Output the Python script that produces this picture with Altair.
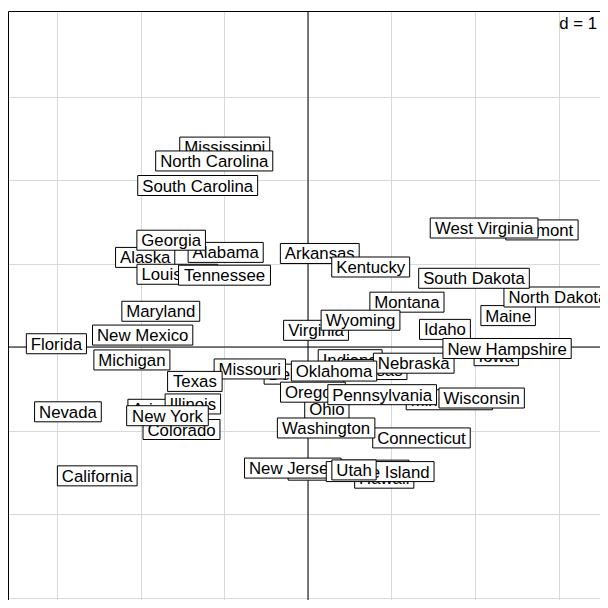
import altair as alt
import pandas as pd

states = ["Alabama", "Alaska", "Arizona", "Arkansas", "California", "Colorado",
          "Connecticut", "Delaware", "Florida", "Georgia", "Hawaii", "Idaho",
          "Illinois", "Indiana", "Iowa", "Kansas", "Kentucky", "Louisiana", "Maine",
          "Maryland", "Massachusetts", "Michigan", "Minnesota", "Mississippi",
          "Missouri", "Montana", "Nebraska", "Nevada", "New Hampshire", "New Jersey",
          "New Mexico", "New York", "North Carolina", "North Dakota", "Ohio",
          "Oklahoma", "Oregon", "Pennsylvania", "Rhode Island", "South Carolina",
          "South Dakota", "Tennessee", "Texas", "Utah", "Vermont", "Virginia",
          "Washington", "West Virginia", "Wisconsin", "Wyoming"]

axis1 = [-0.986, -1.950, -1.763, 0.141, -2.524, -1.515, 1.359, -0.048, -3.013, -1.639,
         0.913, 1.640, -1.379, 0.505, 2.254, 0.797, 0.751, -1.565, 2.397, -1.763,
         0.486, -2.109, 1.693, -0.997, -0.697, 1.185, 1.266, -2.875, 2.384, -0.182,
         -1.980, -1.683, -1.123, 2.992, 0.226, 0.312, 0.059, 0.888, 0.864, -1.321,
         1.988, -1.000, -1.355, 0.551, 2.802, 0.096, 0.217, 2.109, 2.080, 0.629]

axis2 = [1.133, 1.073, -0.746, 1.120, -1.543, -0.988, -1.089, -0.325, 0.039, 1.279,
         -1.571, 0.211, -0.682, -0.152, -0.104, -0.270, 0.958, 0.871, 0.376, 0.428,
         -1.475, -0.155, -0.632, 2.394, -0.263, 0.537, -0.194, -0.776, -0.018, -1.450,
         0.143, -0.823, 2.228, 0.599, -0.742, -0.288, -0.541, -0.571, -1.492, 1.934,
         0.823, 0.860, -0.412, -1.472, 1.402, 0.200, -0.970, 1.425, -0.611, 0.321]

grid_values = [-3, -2, -1, 0, 1, 2, 3]
scale_note = ["d = 1"]

# Arial / Liberation Sans advance widths (per 1000 em) for box sizing
ARIAL = {" ": 278, "A": 667, "B": 667, "C": 722, "D": 722, "E": 667, "F": 611, "G": 778,
         "H": 722, "I": 278, "J": 500, "K": 667, "L": 556, "M": 833, "N": 722, "O": 778,
         "P": 667, "Q": 778, "R": 722, "S": 667, "T": 611, "U": 722, "V": 667, "W": 944,
         "X": 667, "Y": 667, "Z": 611, "a": 556, "b": 556, "c": 500, "d": 556, "e": 556,
         "f": 278, "g": 556, "h": 556, "i": 222, "j": 222, "k": 500, "l": 222, "m": 833,
         "n": 556, "o": 556, "p": 556, "q": 556, "r": 333, "s": 500, "t": 278, "u": 556,
         "v": 500, "w": 722, "x": 500, "y": 500, "z": 500}
FS = 16.8
FONT = "Liberation Sans"


def text_w(s):
    return sum(ARIAL.get(c, 556) for c in s) * FS / 1000


paths = []
for s in states:
    hw = round((text_w(s) + 8.8) / 2, 2)
    hh = 10
    paths.append(f"M{-hw},{-hh}H{hw}V{hh}H{-hw}Z")

df = pd.DataFrame({"i": list(range(len(states))), "state": states,
                   "x": axis1, "y": axis2, "box": paths})

xs = alt.Scale(domain=[-3.5928, 3.4970], nice=False, zero=False)
ys = alt.Scale(domain=[-3.0299, 4.0240], nice=False, zero=False)
axX = alt.Axis(values=grid_values, grid=True, labels=False, ticks=False, domain=True,
               domainColor="black", domainWidth=1, orient="top",
               title=None, gridColor="#d9d9d9", gridWidth=1)
axY = alt.Axis(values=grid_values, grid=True, labels=False, ticks=False, domain=True,
               domainColor="black", domainWidth=1, orient="left",
               title=None, gridColor="#d9d9d9", gridWidth=1)

zero_df = pd.DataFrame({"v": [0]})
vrule = alt.Chart(zero_df).mark_rule(color="black", strokeWidth=1).encode(
    x=alt.X("v:Q", scale=xs, axis=axX))
hrule = alt.Chart(zero_df).mark_rule(color="black", strokeWidth=1).encode(
    y=alt.Y("v:Q", scale=ys, axis=axY))

layers = [vrule, hrule]
for i in range(len(states)):
    base = alt.Chart(df).transform_filter(alt.datum.i == i)
    box = base.mark_point(filled=True, fill="white", stroke="black", strokeWidth=1,
                          opacity=1, fillOpacity=1, strokeOpacity=1, size=4).encode(
        x=alt.X("x:Q", scale=xs, axis=axX),
        y=alt.Y("y:Q", scale=ys, axis=axY),
        shape=alt.Shape("box:N", scale=None, legend=None))
    txt = base.mark_text(font=FONT, fontSize=FS, align="center", baseline="alphabetic",
                         dy=6, color="black").encode(
        x=alt.X("x:Q", scale=xs, axis=axX),
        y=alt.Y("y:Q", scale=ys, axis=axY),
        text="state:N")
    layers += [box, txt]

note = alt.Chart(pd.DataFrame({"t": scale_note})).mark_text(
    font=FONT, fontSize=FS, align="right", baseline="alphabetic", color="black").encode(
    x=alt.value(589), y=alt.value(18), text="t:N")
layers.append(note)

chart = alt.layer(*layers).properties(
    width=592, height=589,
    padding={"left": 0, "right": 0, "top": 3, "bottom": 0},
    autosize=alt.AutoSizeParams(type="none"),
    background="white",
).configure_view(stroke=None)

chart.save("out.html", embed_options={"renderer": "svg", "actions": False})
